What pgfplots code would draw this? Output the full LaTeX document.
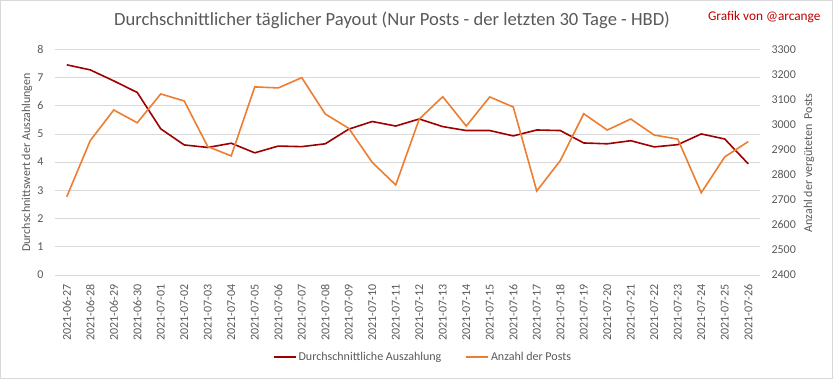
\documentclass[border=0pt]{standalone}
\usepackage{pgfplots}
\pgfplotsset{compat=1.18}
\usepackage{pgfplotstable}
\usepackage{fontspec}
\setmainfont{Carlito}
\definecolor{dred}{RGB}{158,0,0}
\definecolor{orng}{RGB}{237,125,49}
\definecolor{gridc}{RGB}{217,217,217}
\definecolor{txt}{RGB}{89,89,89}
\definecolor{brd}{RGB}{217,217,217}
\definecolor{redt}{RGB}{192,0,0}

\pgfplotstableread{
x pay
0 7.45
1 7.27
2 6.88
3 6.47
4 5.18
5 4.61
6 4.52
7 4.67
8 4.33
9 4.57
10 4.55
11 4.65
12 5.17
13 5.44
14 5.28
15 5.53
16 5.26
17 5.12
18 5.12
19 4.93
20 5.14
21 5.12
22 4.68
23 4.65
24 4.76
25 4.54
26 4.62
27 5.00
28 4.82
29 3.94
}\paytable

\pgfplotstableread{
x posts
0 2712
1 2936
2 3058
3 3007
4 3122
5 3094
6 2912
7 2875
8 3150
9 3146
10 3187
11 3042
12 2985
13 2849
14 2759
15 3022
16 3111
17 2994
18 3110
19 3070
20 2735
21 2856
22 3043
23 2978
24 3022
25 2958
26 2942
27 2728
28 2871
29 2932
}\poststable

\begin{document}
\begin{tikzpicture}[x=1pt,y=1pt]
\draw[brd, line width=0.8pt] (0.4,0.4) rectangle (832.6,378.6);
\node[txt, font=\fontsize{18.6}{22}\selectfont] at (392,359) {Durchschnittlicher täglicher Payout (Nur Posts - der letzten 30 Tage - HBD)};
\node[redt, font=\fontsize{13.3}{16}\selectfont, anchor=east] at (824,362) {Grafik von @arcange};
\node[txt, font=\fontsize{12}{14}\selectfont, rotate=90] at (27,216.5) {Durchschnittswert der Auszahlungen};
\node[txt, font=\fontsize{12}{14}\selectfont, rotate=90] at (809,216) {Anzahl der vergüteten\ \ Posts};

\begin{axis}[
  at={(55pt,104pt)}, anchor=south west,
  scale only axis, width=705pt, height=225.7pt,
  xmin=-0.5, xmax=29.5, ymin=0, ymax=8,
  ytick={0,1,...,8},
  xtick={0,1,...,29},
  xticklabels={2021-06-27,2021-06-28,2021-06-29,2021-06-30,2021-07-01,2021-07-02,2021-07-03,2021-07-04,2021-07-05,2021-07-06,2021-07-07,2021-07-08,2021-07-09,2021-07-10,2021-07-11,2021-07-12,2021-07-13,2021-07-14,2021-07-15,2021-07-16,2021-07-17,2021-07-18,2021-07-19,2021-07-20,2021-07-21,2021-07-22,2021-07-23,2021-07-24,2021-07-25,2021-07-26},
  x tick label style={rotate=90, anchor=east, xshift=0pt, yshift=0pt},
  tick label style={font=\fontsize{12}{14}\selectfont, text=txt},
  /pgf/number format/assume math mode=true,
  ymajorgrids, grid style={gridc, line width=0.8pt},
  axis line style={draw=none},
  major tick length=0pt,
  xticklabel shift=6pt,
  yticklabel shift=8pt,
  clip=false,
]
\addplot[dred, line width=1.6pt] table[x=x,y=pay] {\paytable};
\end{axis}

\begin{axis}[
  at={(55pt,104pt)}, anchor=south west,
  scale only axis, width=705pt, height=225.7pt,
  xmin=-0.5, xmax=29.5, ymin=2400, ymax=3300,
  ytick={2400,2500,...,3300},
  axis y line*=right,
  axis x line=none,
  tick label style={font=\fontsize{12}{14}\selectfont, text=txt},
  /pgf/number format/assume math mode=true,
  /pgf/number format/1000 sep={},
  axis line style={draw=none},
  major tick length=0pt,
  yticklabel shift=8pt,
  legend style={at={(0.522,-0.363)}, anchor=center, draw=none, fill=none,
    font=\fontsize{12}{14}\selectfont, text=txt, legend columns=2,
    /tikz/every even column/.append style={column sep=22pt}},
  legend image code/.code={\draw[#1, line width=1.6pt] (0pt,0pt) -- (22pt,0pt);},
  clip=false,
]
\addlegendimage{dred}
\addlegendentry{Durchschnittliche Auszahlung}
\addplot[orng, line width=1.6pt] table[x=x,y=posts] {\poststable};
\addlegendentry{Anzahl der Posts}
\end{axis}
\end{tikzpicture}
\end{document}
